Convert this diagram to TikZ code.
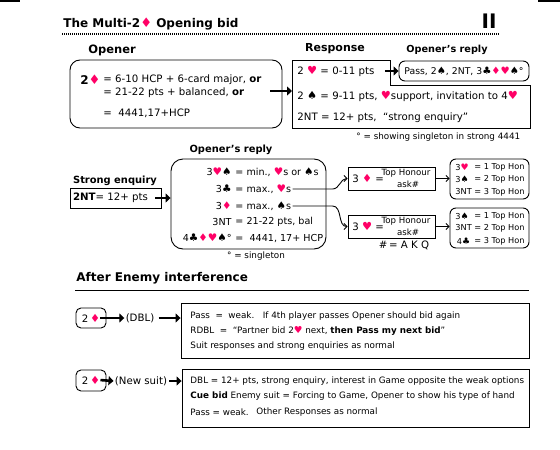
\documentclass[tikz,border=0pt]{standalone}
\usepackage{fontspec}
\setmainfont{DejaVu Sans}
\usepackage{xcolor}
\usetikzlibrary{positioning,arrows.meta,calc}
\definecolor{suitred}{HTML}{FF0066}
\newcommand{\suitsym}[1]{\scalebox{1.1}{#1}}
\newcommand{\Spd}{\suitsym{♠}}
\newcommand{\Clb}{\suitsym{♣}}
\newcommand{\Hrt}{\textcolor{suitred}{\suitsym{♥}}}
\newcommand{\Dia}{\textcolor{suitred}{\suitsym{♦}}}
\newcommand{\bodyfont}{\fontsize{10.2}{12}\selectfont}
\newcommand{\replyfont}{\fontsize{9.6}{11}\selectfont}
\newcommand{\notefont}{\fontsize{8.8}{10}\selectfont}
\newcommand{\honfont}{\fontsize{8.2}{10}\selectfont}
\newcommand{\headfont}[1]{\fontsize{#1}{#1}\selectfont\bfseries}

\begin{document}
\begin{tikzpicture}[x=1pt,y=-1pt,line width=0.9pt,
  every node/.style={inner sep=1pt,font=\bodyfont},
  head/.style={font=\headfont{#1}}, head/.default=11,
  sqbox/.style={draw,inner sep=0pt},
  rndbox/.style={draw,rounded corners=#1,inner sep=0pt}, rndbox/.default=6pt,
  bigarrow/.style={line width=2.6pt,-{Triangle[length=5pt,width=9pt]}},
  thinarrow/.style={line width=0.9pt,-{Straight Barb[length=3pt,width=6pt]}}]
  \useasboundingbox (0,0) rectangle (560,450);
  % ---- title ----
  \draw[line width=1.5pt] (0,0.75) -- (20,0.75) (538,0.75) -- (560,0.75);
  \node[head=12,anchor=west] (title) at (62,24) {The Multi-2\Dia{} Opening bid};
  \node[font=\headfont{20}] (page) at (489,21) {II};
  \draw[line width=2.2pt,dash pattern=on 1pt off 1pt] (62,34) -- (500,34);
  % ---- opener, response and opener's reply ----
  \node[head=11.5] (hopen) at (112,50) {Opener};
  \node[head=11] (hresp) at (335,49) {Response};
  \node[head=9.7] (hrep) at (447,50) {Opener’s reply};
  \node[rndbox=10pt,minimum width=212pt,minimum height=68pt] (opener) at (176,94) {};
  \node[anchor=east,font=\headfont{12}] (o0) at (102,80) {2\Dia};
  \node[anchor=west] (o1) at (102,80) {= 6-10 HCP + 6-card major, \textbf{or}};
  \node[anchor=west] (o2) at (102,93) {= 21-22 pts + balanced, \textbf{or}};
  \node[anchor=west] (o3) at (102,113) {=\ \ 4441,17+HCP};
  \draw (292,60) -- (390,60) -- (390,85) -- (530,85) -- (530,128) -- (292,128) -- cycle;
  \coordinate (resp) at (292,91);
  \draw[bigarrow,shorten <=-12pt] (opener.east |- resp) -- (resp);
  \node[anchor=west] (r1) at (296,71) {2 \Hrt\ = 0-11 pts};
  \node[anchor=west] (r2) at (296,96) {2 \Spd\ = 9-11 pts, \Hrt support, invitation to 4\Hrt};
  \node[anchor=west] (r3) at (296,118) {2NT = 12+ pts,\ \ “strong enquiry”};
  \node[rndbox,minimum width=130pt,minimum height=20pt,font=\fontsize{9.3}{11}\selectfont] (pass) at (464,71) {Pass, 2\Spd, 2NT, 3\Clb\Dia\Hrt\Spd°};
  \draw[bigarrow,shorten <=9pt] (r1.east) -- (pass.west);
  \node[anchor=west,font=\notefont] (n1) at (355,137) {° = showing singleton in strong 4441};
  % ---- strong enquiry ----
  \node[head=9.9] (hse) at (115,181) {Strong enquiry};
  \node[sqbox,minimum width=91pt,minimum height=20pt] (se) at (115.5,198) {\textbf{2NT}= 12+ pts\hspace*{10pt}};
  \node[head=9.9] (hrep2) at (231,150) {Opener’s reply};
  \node[rndbox=12pt,minimum width=155pt,minimum height=90pt] (reply) at (248.5,204) {};
  \draw[bigarrow,shorten <=-6pt] (se.east) -- (se.east -| reply.west);
  \foreach \lft/\rgt/\y [count=\i] in {
      {3\Hrt\Spd}/{= min., \Hrt s or \Spd s}/172,
      {3\Clb}/{= max., \Hrt s}/189,
      {3\Dia}/{= max., \Spd s}/206,
      {3NT}/{= 21-22 pts, bal}/222,
      {4\Clb\Dia\Hrt\Spd°}/{=\ \ 4441,\ 17+ HCP}/238}{
    \node[anchor=east,font=\replyfont] (ql\i) at (233,\y) {\lft};
    \node[anchor=west,font=\replyfont] (qr\i) at (234,\y) {\rgt};
  }
  \node[font=\notefont] (n2) at (256,256) {° = singleton};
  % top honour asks
  \node[sqbox,minimum width=87pt,minimum height=23pt] (ask1) at (391.5,178.5) {};
  \node[anchor=west] (a1l) at (351,178) {3 \Dia\ =};
  \node[font=\fontsize{8.6}{10}\selectfont] (a1t) at (406,173) {Top Honour};
  \node[font=\fontsize{8.6}{10}\selectfont] (a1a) at (408,184) {ask\#};
  \node[sqbox,minimum width=87pt,minimum height=23pt] (ask2) at (391.5,226.5) {};
  \node[anchor=west] (a2l) at (351,226) {3 \Hrt\ =};
  \node[font=\fontsize{8.6}{10}\selectfont] (a2t) at (406,221) {Top Honour};
  \node[font=\fontsize{8.6}{10}\selectfont] (a2a) at (408,232) {ask\#};
  \node (akq) at (404,245) {\#\,= A K Q};
  \coordinate (k1) at ($(ask1.west)+(-15,0)$);
  \coordinate (k2) at ($(ask2.west)+(-15,0)$);
  \draw[thinarrow] (qr2.east) -- (qr2.east -| k1) to[out=0,in=180] (ask1.west);
  \draw[thinarrow] (qr3.east) -- (qr3.east -| k2) to[out=0,in=180] (ask2.west);
  % replies to the asks
  \node[rndbox,minimum width=79pt,minimum height=40pt] (hon1) at (489.5,179) {};
  \foreach \lft/\rgt/\y [count=\i] in {{3\Hrt}/{= 1 Top Hon}/167,{3\Spd}/{= 2 Top Hon}/179,{3NT}/{= 3 Top Hon}/192}{
    \node[anchor=west,font=\honfont] (hal\i) at (454,\y) {\lft};
    \node[anchor=west,font=\honfont] (har\i) at (473,\y) {\rgt};
  }
  \node[rndbox,minimum width=79pt,minimum height=40pt] (hon2) at (489.5,228) {};
  \foreach \lft/\rgt/\y [count=\i] in {{3\Spd}/{= 1 Top Hon}/216,{3NT}/{= 2 Top Hon}/228,{\,4\Clb}/{= 3 Top Hon}/241}{
    \node[anchor=west,font=\honfont] (hbl\i) at (454,\y) {\lft};
    \node[anchor=west,font=\honfont] (hbr\i) at (473,\y) {\rgt};
  }
  \draw[thinarrow] (ask1.east) -- (ask1.east -| hon1.west);
  \draw[thinarrow] (ask2.east) -- (ask2.east -| hon2.west);
  % ---- after enemy interference ----
  \node[head=12,anchor=west] (henemy) at (75,278) {After Enemy interference};
  \draw (75,290) -- (529,290);
  \node[rndbox=5pt,minimum width=30pt,minimum height=20pt] (two1) at (91,318) {2\,\Dia};
  \node (dbl) at (140,318) {(DBL)};
  \node[sqbox,minimum width=348pt,minimum height=55pt] (wbox1) at (355,330.5) {};
  \draw[bigarrow,shorten <=-6pt] (two1.east) -- (dbl.west);
  \draw[bigarrow,shorten <=3pt] (dbl.east) -- (dbl.east -| wbox1.west);
  \node[anchor=west,font=\notefont] (w11) at (189,316) {Pass\ \ =\ \ weak.\ \ \ If 4th player passes Opener should bid again};
  \node[anchor=west,font=\notefont] (w12) at (189,331) {RDBL\ \ =\ \ “Partner bid 2\Hrt\ next, \textbf{then Pass my next bid}”};
  \node[anchor=west,font=\notefont] (w13) at (189,346) {Suit responses and strong enquiries as normal};
  \node[rndbox=5pt,minimum width=30pt,minimum height=21pt] (two2) at (91,380.5) {2\,\Dia};
  \node (nsuit) at (141,381) {(New suit)};
  \node[sqbox,minimum width=347pt,minimum height=58pt] (wbox2) at (355.5,398) {};
  \draw[bigarrow,shorten <=-6pt] (two2.east) -- (nsuit.west);
  \draw[bigarrow,shorten <=1pt] (nsuit.east) -- (nsuit.east -| wbox2.west);
  \node[anchor=west,font=\notefont] (w21) at (189,381) {DBL = 12+ pts, strong enquiry, interest in Game opposite the weak options};
  \node[anchor=west,font=\notefont] (w22) at (189,396) {\textbf{Cue bid} Enemy suit = Forcing to Game, Opener to show his type of hand};
  \node[anchor=west,font=\notefont] (w23) at (189,412) {Pass = weak.};
  \node[anchor=west,font=\notefont] (w24) at (255,412) {Other Responses as normal};
\end{tikzpicture}
\end{document}
